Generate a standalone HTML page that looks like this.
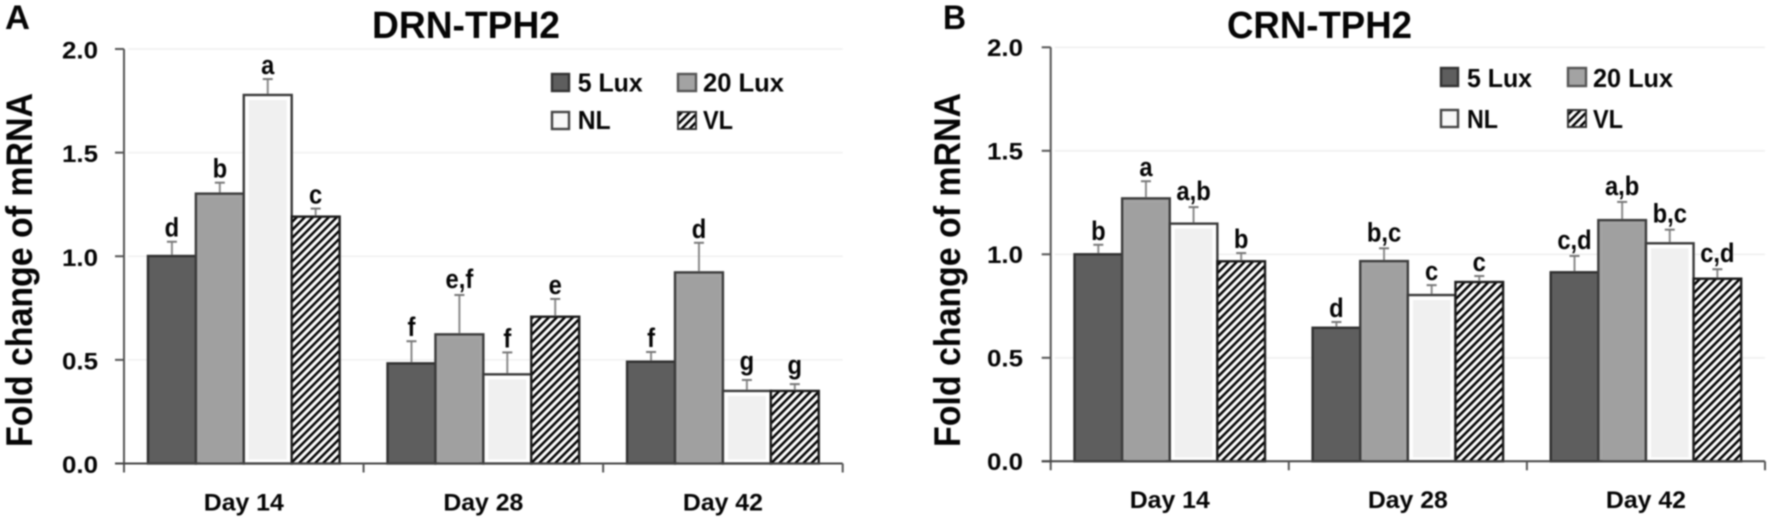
<!DOCTYPE html>
<html lang="en">
<head>
<meta charset="utf-8">
<title>DRN-TPH2 and CRN-TPH2 fold change of mRNA</title>
<style>
html,body{margin:0;padding:0;background:#fff;width:1772px;height:522px;overflow:hidden}
svg{display:block;filter:blur(0.7px)}
text{font-family:"Liberation Sans",sans-serif;font-weight:700;fill:#050505}
</style>
</head>
<body>
<svg id="figure" xmlns="http://www.w3.org/2000/svg" width="1772" height="522" viewBox="0 0 1772 522">
  <defs>
    <pattern id="hatch" patternUnits="userSpaceOnUse" width="5.66" height="5.66" patternTransform="rotate(45)">
      <rect width="5.66" height="5.66" fill="#fff"/>
      <rect width="2.5" height="5.66" fill="#000"/>
    </pattern>
  </defs>
  <rect width="1772" height="522" fill="#fff"/>

  <g id="panel-a"></g>
  <g id="panel-b"></g>

  <g>
    <text x="5" y="29" font-size="34" textLength="25" lengthAdjust="spacingAndGlyphs">A</text>
    <text x="372" y="38" font-size="38" textLength="188" lengthAdjust="spacingAndGlyphs">DRN-TPH2</text>
    <text transform="translate(32,447) rotate(-90)" font-size="37" textLength="354" lengthAdjust="spacingAndGlyphs">Fold change of mRNA</text>
    <g>
      <g>
        <rect x="552" y="74" width="17" height="17" fill="#5e5e5e" stroke="#333" stroke-width="2.4"/>
        <text x="577.7" y="91.5" font-size="26" textLength="65" lengthAdjust="spacingAndGlyphs">5 Lux</text>
      </g>
      <g>
        <rect x="678" y="74" width="18" height="17" fill="#a3a3a3" stroke="#555" stroke-width="2.4"/>
        <text x="703" y="91.5" font-size="26" textLength="81" lengthAdjust="spacingAndGlyphs">20 Lux</text>
      </g>
      <g>
        <rect x="552" y="112" width="17" height="17" fill="#f8f8f8" stroke="#444" stroke-width="2.4"/>
        <text x="577.7" y="129" font-size="26" textLength="33" lengthAdjust="spacingAndGlyphs">NL</text>
      </g>
      <g>
        <rect x="678" y="112" width="18" height="17" fill="url(#hatch)" stroke="#333" stroke-width="2"/>
        <text x="703" y="129" font-size="26" textLength="30" lengthAdjust="spacingAndGlyphs">VL</text>
      </g>
    </g>
  </g>

  <g>
    <text x="943" y="29" font-size="34" textLength="23" lengthAdjust="spacingAndGlyphs">B</text>
    <text x="1227" y="38" font-size="38" textLength="185" lengthAdjust="spacingAndGlyphs">CRN-TPH2</text>
    <text transform="translate(960,447) rotate(-90)" font-size="37" textLength="354" lengthAdjust="spacingAndGlyphs">Fold change of mRNA</text>
    <g>
      <g>
        <rect x="1441" y="68" width="17" height="18" fill="#5e5e5e" stroke="#333" stroke-width="2.4"/>
        <text x="1467" y="87" font-size="26" textLength="65" lengthAdjust="spacingAndGlyphs">5 Lux</text>
      </g>
      <g>
        <rect x="1568" y="68" width="18" height="18" fill="#a3a3a3" stroke="#555" stroke-width="2.4"/>
        <text x="1593" y="87" font-size="26" textLength="80" lengthAdjust="spacingAndGlyphs">20 Lux</text>
      </g>
      <g>
        <rect x="1441" y="110" width="17" height="17" fill="#f8f8f8" stroke="#444" stroke-width="2.4"/>
        <text x="1467" y="128" font-size="26" textLength="31" lengthAdjust="spacingAndGlyphs">NL</text>
      </g>
      <g>
        <rect x="1568" y="110" width="18" height="17" fill="url(#hatch)" stroke="#333" stroke-width="2"/>
        <text x="1593" y="128" font-size="26" textLength="30" lengthAdjust="spacingAndGlyphs">VL</text>
      </g>
    </g>
  </g>
</svg>

<script>
// Shared axis data
var categories = ['Day 14', 'Day 28', 'Day 42'];
var seriesNames = ['5-lux', '20-lux', 'nl', 'vl'];
var yTicks = [0, 0.5, 1, 1.5, 2];
var yTickLabels = ['0.0', '0.5', '1.0', '1.5', '2.0'];

// Panel A: DRN-TPH2 (bar value, top of error bar, significance letter)
var drn5Lux = [1.006, 0.488, 0.496];
var drn20Lux = [1.307, 0.628, 0.927];
var drnNL = [1.783, 0.435, 0.355];
var drnVL = [1.196, 0.713, 0.355];
var drn5LuxErr = [1.07, 0.59, 0.538];
var drn20LuxErr = [1.355, 0.813, 1.065];
var drnNLErr = [1.855, 0.536, 0.403];
var drnVLErr = [1.23, 0.794, 0.383];
var drn5LuxSig = ['d', 'f', 'f'];
var drn20LuxSig = ['b', 'e,f', 'd'];
var drnNLSig = ['a', 'f', 'g'];
var drnVLSig = ['c', 'e', 'g'];

// Panel B: CRN-TPH2
var crn5Lux = [1.005, 0.65, 0.918];
var crn20Lux = [1.275, 0.972, 1.17];
var crnNL = [1.153, 0.808, 1.058];
var crnVL = [0.971, 0.871, 0.887];
var crn5LuxErr = [1.046, 0.673, 0.992];
var crn20LuxErr = [1.353, 1.029, 1.253];
var crnNLErr = [1.228, 0.851, 1.119];
var crnVLErr = [1.006, 0.895, 0.928];
var crn5LuxSig = ['b', 'd', 'c,d'];
var crn20LuxSig = ['a', 'b,c', 'a,b'];
var crnNLSig = ['a,b', 'c', 'b,c'];
var crnVLSig = ['b', 'c', 'c,d'];

var SVGNS = 'http://www.w3.org/2000/svg';

function make(parent, tag, attrs, content) {
  var el = document.createElementNS(SVGNS, tag);
  for (var k in attrs) { el.setAttribute(k, attrs[k]); }
  if (content !== undefined) { el.textContent = content; }
  parent.appendChild(el);
  return el;
}

function drawPanel(root, g, values, errs, sigs) {
  function yScale(v) { return g.y0 - v * (g.y0 - g.y2) / 2; }
  var catW = (g.xEnd - g.xAxis) / categories.length;
  var barW = catW / 5;
  function barX(c, s) { return g.xAxis + c * catW + barW / 2 + s * barW; }

  // gridlines
  yTicks.forEach(function (t) {
    if (t === 0) { return; }
    var line = make(root, 'line', { x1: g.xAxis + 4, x2: g.xEnd, y1: yScale(t), y2: yScale(t), stroke: '#f0f0f0', 'stroke-width': 1.6 });
    
    
  });

  // bars
  seriesNames.forEach(function (name, s) {
    categories.forEach(function (cat, c) {
      var x = barX(c, s), top = yScale(values[s][c]), h = g.y0 - top;
      var fill = ['#5e5e5e', '#a3a3a3', '#ffffff', 'url(#hatch)'][s];
      var edge = ['#2f2f2f', '#3c3c3c', '#3a3a3a', '#1c1c1c'][s];
      var bar = make(root, 'rect', { x: x, y: top + 1, width: barW, height: h - 1, fill: fill, stroke: edge, 'stroke-width': 2.4 });
      
      
      if (s === 2) {
        var inner = make(root, 'rect', { x: x + 5, y: top + 6, width: barW - 10, height: Math.max(h - 10, 0), fill: '#f0f0f0' });
        
        
      }
      if (s === 1) {
        var innerB = make(root, 'rect', { x: x + 4, y: top + 5, width: barW - 8, height: Math.max(h - 5, 0), fill: '#a0a0a0' });
        
        
      }
      // error bar
      var cx = x + barW / 2, errY = yScale(errs[s][c]);
      var stem = make(root, 'line', { x1: cx, x2: cx, y1: errY, y2: top, stroke: '#8a8a8a', 'stroke-width': 2 });
      
      
      var cap = make(root, 'line', { x1: cx - 5, x2: cx + 5, y1: errY, y2: errY, stroke: '#777', 'stroke-width': 2 });
      
      
      // significance letter: narrow tall glyphs, descender letters sit higher
      var sig = sigs[s][c];
      var lift = sig.indexOf('g') >= 0 ? 10 : (sig.indexOf(',') >= 0 ? 7 : 5);
      var lab = make(root, 'text', { x: cx, y: errY - lift, 'text-anchor': 'middle', 'font-size': 27 }, sig);
      
      
      lab.setAttribute('textLength', (lab.getComputedTextLength() * 0.88).toFixed(1));
      lab.setAttribute('lengthAdjust', 'spacingAndGlyphs');
    });
  });

  // y axis
  var yAxis = make(root, 'line', { x1: g.xAxis, x2: g.xAxis, y1: g.y2, y2: g.y0 + 9, stroke: '#555', 'stroke-width': 2 });
  
  
  yTicks.forEach(function (t, i) {
    var tick = make(root, 'line', { x1: g.xAxis - 9, x2: g.xAxis, y1: yScale(t), y2: yScale(t), stroke: '#555', 'stroke-width': 2 });
    
    
    var lab = make(root, 'text', { x: g.tickLeft, y: yScale(t) + g.tickDy, 'font-size': 24, textLength: 36, lengthAdjust: 'spacingAndGlyphs' }, yTickLabels[i]);
    
    
  });

  // x axis
  var xAxis = make(root, 'line', { x1: g.xAxis - 9, x2: g.xEnd, y1: g.y0, y2: g.y0, stroke: '#444', 'stroke-width': 2 });
  
  
  for (var i = 1; i <= categories.length; i++) {
    var tx = g.xAxis + i * catW;
    var xt = make(root, 'line', { x1: tx, x2: tx, y1: g.y0, y2: g.y0 + 9, stroke: '#555', 'stroke-width': 2 });
    
    
  }
  categories.forEach(function (cat, c) {
    var mid = g.xAxis + (c + 0.5) * catW;
    var lab = make(root, 'text', { x: mid - 40, y: g.xLabelY, 'font-size': 24, textLength: 80, lengthAdjust: 'spacingAndGlyphs' }, cat);
    
    
  });
}

drawPanel(document.getElementById('panel-a'),
  { xAxis: 124, xEnd: 842.7, y0: 463.5, y2: 49, tickLeft: 62, tickDy: 9.5, xLabelY: 510.5 },
  [drn5Lux, drn20Lux, drnNL, drnVL],
  [drn5LuxErr, drn20LuxErr, drnNLErr, drnVLErr],
  [drn5LuxSig, drn20LuxSig, drnNLSig, drnVLSig]);

drawPanel(document.getElementById('panel-b'),
  { xAxis: 1050.7, xEnd: 1765, y0: 461.3, y2: 47.3, tickLeft: 987, tickDy: 8.5, xLabelY: 508 },
  [crn5Lux, crn20Lux, crnNL, crnVL],
  [crn5LuxErr, crn20LuxErr, crnNLErr, crnVLErr],
  [crn5LuxSig, crn20LuxSig, crnNLSig, crnVLSig]);
</script>
</body>
</html>
